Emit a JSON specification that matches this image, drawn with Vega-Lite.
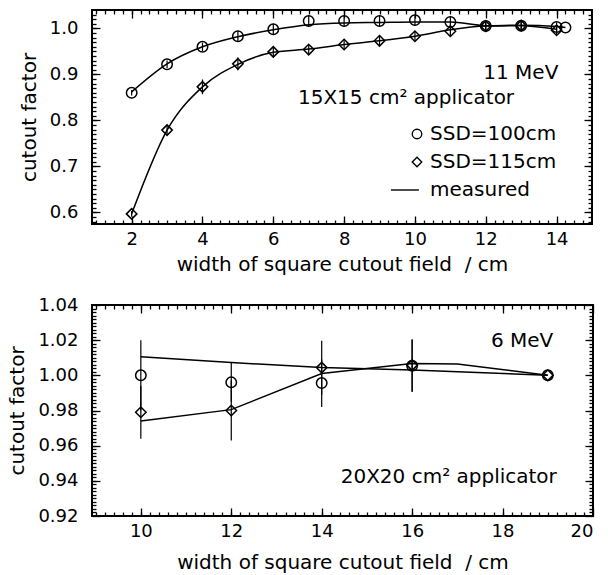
{
  "$schema": "https://vega.github.io/schema/vega-lite/v6.json",
  "background": "white",
  "padding": {"left": 6, "top": 8, "right": 0, "bottom": 0},
  "spacing": 20,
  "config": {
    "font": "DejaVu Sans",
    "view": {"stroke": "black", "strokeWidth": 2},
    "axis": {
      "labelFont": "DejaVu Sans", "labelFontSize": 18, "labelColor": "black",
      "titleFont": "DejaVu Sans", "titleFontSize": 20, "titleFontWeight": "normal", "titleColor": "black",
      "tickColor": "black", "tickWidth": 1.3, "domain": false, "grid": false, "labelPadding": 14, "titlePadding": 6
    },
    "axisY": {"labelPadding": 22, "titlePadding": 10},
    "legend": {"labelFont": "DejaVu Sans", "labelFontSize": 20, "labelColor": "black"}
  },
  "datasets": {
    "top_points": [
      {"w": 2, "cf": 0.860, "lo": 0.854, "hi": 0.866, "s": "SSD=100cm"},
      {"w": 3, "cf": 0.922, "lo": 0.914, "hi": 0.930, "s": "SSD=100cm"},
      {"w": 4, "cf": 0.960, "lo": 0.951, "hi": 0.969, "s": "SSD=100cm"},
      {"w": 5, "cf": 0.983, "lo": 0.972, "hi": 0.994, "s": "SSD=100cm"},
      {"w": 6, "cf": 0.998, "lo": 0.986, "hi": 1.010, "s": "SSD=100cm"},
      {"w": 7, "cf": 1.016, "lo": 1.004, "hi": 1.028, "s": "SSD=100cm"},
      {"w": 8, "cf": 1.016, "lo": 1.004, "hi": 1.028, "s": "SSD=100cm"},
      {"w": 9, "cf": 1.016, "lo": 1.004, "hi": 1.028, "s": "SSD=100cm"},
      {"w": 10, "cf": 1.018, "lo": 1.006, "hi": 1.030, "s": "SSD=100cm"},
      {"w": 11, "cf": 1.014, "lo": 1.002, "hi": 1.026, "s": "SSD=100cm"},
      {"w": 12, "cf": 1.005, "lo": 0.995, "hi": 1.015, "s": "SSD=100cm"},
      {"w": 13, "cf": 1.006, "lo": 0.996, "hi": 1.016, "s": "SSD=100cm"},
      {"w": 14, "cf": 1.003, "lo": 0.993, "hi": 1.013, "s": "SSD=100cm"},
      {"w": 14.25, "cf": 1.002, "lo": 1.002, "hi": 1.002, "s": "SSD=100cm"},
      {"w": 2, "cf": 0.597, "lo": 0.591, "hi": 0.603, "s": "SSD=115cm"},
      {"w": 3, "cf": 0.779, "lo": 0.769, "hi": 0.789, "s": "SSD=115cm"},
      {"w": 4, "cf": 0.873, "lo": 0.857, "hi": 0.889, "s": "SSD=115cm"},
      {"w": 5, "cf": 0.923, "lo": 0.909, "hi": 0.937, "s": "SSD=115cm"},
      {"w": 6, "cf": 0.949, "lo": 0.937, "hi": 0.961, "s": "SSD=115cm"},
      {"w": 7, "cf": 0.954, "lo": 0.944, "hi": 0.964, "s": "SSD=115cm"},
      {"w": 8, "cf": 0.965, "lo": 0.955, "hi": 0.975, "s": "SSD=115cm"},
      {"w": 9, "cf": 0.973, "lo": 0.963, "hi": 0.983, "s": "SSD=115cm"},
      {"w": 10, "cf": 0.983, "lo": 0.973, "hi": 0.993, "s": "SSD=115cm"},
      {"w": 11, "cf": 0.994, "lo": 0.982, "hi": 1.006, "s": "SSD=115cm"},
      {"w": 12, "cf": 1.005, "lo": 0.995, "hi": 1.015, "s": "SSD=115cm"},
      {"w": 13, "cf": 1.006, "lo": 0.996, "hi": 1.016, "s": "SSD=115cm"},
      {"w": 14, "cf": 0.996, "lo": 0.986, "hi": 1.006, "s": "SSD=115cm"}
    ],
    "top_measured": [
      {"w": 2, "cf": 0.862, "s": "SSD=100cm"},
      {"w": 3, "cf": 0.923, "s": "SSD=100cm"},
      {"w": 4, "cf": 0.960, "s": "SSD=100cm"},
      {"w": 5, "cf": 0.982, "s": "SSD=100cm"},
      {"w": 6, "cf": 0.997, "s": "SSD=100cm"},
      {"w": 7, "cf": 1.008, "s": "SSD=100cm"},
      {"w": 8, "cf": 1.012, "s": "SSD=100cm"},
      {"w": 9, "cf": 1.013, "s": "SSD=100cm"},
      {"w": 10, "cf": 1.014, "s": "SSD=100cm"},
      {"w": 11, "cf": 1.014, "s": "SSD=100cm"},
      {"w": 12, "cf": 1.006, "s": "SSD=100cm"},
      {"w": 13, "cf": 1.007, "s": "SSD=100cm"},
      {"w": 14, "cf": 1.004, "s": "SSD=100cm"},
      {"w": 14.25, "cf": 1.002, "s": "SSD=100cm"},
      {"w": 2, "cf": 0.597, "s": "SSD=115cm"},
      {"w": 3, "cf": 0.779, "s": "SSD=115cm"},
      {"w": 4, "cf": 0.873, "s": "SSD=115cm"},
      {"w": 5, "cf": 0.922, "s": "SSD=115cm"},
      {"w": 6, "cf": 0.948, "s": "SSD=115cm"},
      {"w": 7, "cf": 0.955, "s": "SSD=115cm"},
      {"w": 8, "cf": 0.965, "s": "SSD=115cm"},
      {"w": 9, "cf": 0.973, "s": "SSD=115cm"},
      {"w": 10, "cf": 0.983, "s": "SSD=115cm"},
      {"w": 11, "cf": 0.997, "s": "SSD=115cm"},
      {"w": 12, "cf": 1.005, "s": "SSD=115cm"},
      {"w": 13, "cf": 1.006, "s": "SSD=115cm"},
      {"w": 14, "cf": 0.998, "s": "SSD=115cm"}
    ],
    "bottom_points": [
      {"w": 10, "cf": 1.000, "lo": 0.980, "hi": 1.020, "s": "SSD=100cm"},
      {"w": 12, "cf": 0.996, "lo": 0.985, "hi": 1.007, "s": "SSD=100cm"},
      {"w": 14, "cf": 0.9956, "lo": 0.982, "hi": 1.009, "s": "SSD=100cm"},
      {"w": 16, "cf": 1.0054, "lo": 0.9905, "hi": 1.0204, "s": "SSD=100cm"},
      {"w": 19, "cf": 1.000, "lo": 1.000, "hi": 1.000, "s": "SSD=100cm"},
      {"w": 10, "cf": 0.979, "lo": 0.964, "hi": 0.994, "s": "SSD=115cm"},
      {"w": 12, "cf": 0.980, "lo": 0.963, "hi": 0.997, "s": "SSD=115cm"},
      {"w": 14, "cf": 1.0044, "lo": 0.989, "hi": 1.0197, "s": "SSD=115cm"},
      {"w": 16, "cf": 1.0058, "lo": 0.9908, "hi": 1.0204, "s": "SSD=115cm"},
      {"w": 19, "cf": 1.000, "lo": 1.000, "hi": 1.000, "s": "SSD=115cm"}
    ],
    "bottom_measured": [
      {"w": 10, "cf": 1.0105, "s": "A"},
      {"w": 12, "cf": 1.0073, "s": "A"},
      {"w": 14, "cf": 1.0044, "s": "A"},
      {"w": 16, "cf": 1.003, "s": "A"},
      {"w": 19, "cf": 1.000, "s": "A"},
      {"w": 10, "cf": 0.974, "s": "B"},
      {"w": 12, "cf": 0.9805, "s": "B"},
      {"w": 14, "cf": 1.001, "s": "B"},
      {"w": 16, "cf": 1.0067, "s": "B"},
      {"w": 17, "cf": 1.0065, "s": "B"},
      {"w": 19, "cf": 1.000, "s": "B"}
    ]
  },
  "vconcat": [
    {
      "width": 500,
      "height": 214,
      "resolve": {"axis": {"x": "independent", "y": "independent"}},
      "layer": [
        {
          "data": {"name": "top_points"},
          "mark": {"type": "rule", "color": "black", "strokeWidth": 1.2},
          "encoding": {
            "x": {"field": "w", "type": "quantitative", "scale": {"domain": [0.88, 15.0], "nice": false, "zero": false},
                  "axis": {"orient": "bottom", "values": [2, 4, 6, 8, 10, 12, 14], "tickSize": -8, "title": "width of square cutout field\u00a0 / cm"}},
            "y": {"field": "lo", "type": "quantitative", "scale": {"domain": [0.575, 1.04], "nice": false, "zero": false},
                  "axis": {"orient": "left", "values": [0.6, 0.7, 0.8, 0.9, 1.0], "format": ".1f", "tickSize": -8, "title": "cutout factor"}},
            "y2": {"field": "hi"}
          }
        },
        {
          "data": {"name": "top_measured"},
          "mark": {"type": "line", "color": "black", "strokeWidth": 1.5, "interpolate": "monotone"},
          "encoding": {
            "x": {"field": "w", "type": "quantitative", "axis": {"orient": "top", "values": [2, 4, 6, 8, 10, 12, 14], "tickSize": -8, "labels": false, "title": null}},
            "y": {"field": "cf", "type": "quantitative", "axis": {"orient": "right", "values": [0.6, 0.7, 0.8, 0.9, 1.0], "tickSize": -8, "labels": false, "title": null}},
            "detail": {"field": "s"}
          }
        },
        {
          "data": {"name": "top_points"},
          "mark": {"type": "point", "filled": false, "color": "black", "strokeWidth": 1.5, "size": 110, "opacity": 1},
          "encoding": {
            "x": {"field": "w", "type": "quantitative", "axis": {"orient": "bottom", "labels": false, "title": null, "tickSize": -4,
              "values": [1,1.25,1.5,1.75,2,2.25,2.5,2.75,3,3.25,3.5,3.75,4,4.25,4.5,4.75,5,5.25,5.5,5.75,6,6.25,6.5,6.75,7,7.25,7.5,7.75,8,8.25,8.5,8.75,9,9.25,9.5,9.75,10,10.25,10.5,10.75,11,11.25,11.5,11.75,12,12.25,12.5,12.75,13,13.25,13.5,13.75,14,14.25,14.5,14.75]}},
            "y": {"field": "cf", "type": "quantitative", "axis": {"orient": "left", "labels": false, "title": null, "tickSize": -4,
              "values": [0.58,0.59,0.6,0.61,0.62,0.63,0.64,0.65,0.66,0.67,0.68,0.69,0.7,0.71,0.72,0.73,0.74,0.75,0.76,0.77,0.78,0.79,0.8,0.81,0.82,0.83,0.84,0.85,0.86,0.87,0.88,0.89,0.9,0.91,0.92,0.93,0.94,0.95,0.96,0.97,0.98,0.99,1.0,1.01,1.02,1.03]}},
            "shape": {"field": "s", "type": "nominal",
              "scale": {"domain": ["SSD=100cm", "SSD=115cm", "measured"], "range": ["circle", "diamond", "M-5.5,0H0.4"]},
              "legend": {"title": null, "orient": "none", "legendX": 315, "legendY": 114, "symbolSize": 90, "symbolStrokeColor": "black", "symbolFillColor": "transparent", "symbolStrokeWidth": 1.4, "rowPadding": 8, "labelOffset": 3}}
          }
        },
        {
          "data": {"values": [{"t": "11 MeV"}]},
          "mark": {"type": "text", "align": "right", "baseline": "alphabetic", "fontSize": 20, "color": "black"},
          "encoding": {
            "x": {"datum": 14.05, "type": "quantitative", "axis": {"orient": "top", "labels": false, "title": null, "tickSize": -4,
              "values": [1,1.25,1.5,1.75,2,2.25,2.5,2.75,3,3.25,3.5,3.75,4,4.25,4.5,4.75,5,5.25,5.5,5.75,6,6.25,6.5,6.75,7,7.25,7.5,7.75,8,8.25,8.5,8.75,9,9.25,9.5,9.75,10,10.25,10.5,10.75,11,11.25,11.5,11.75,12,12.25,12.5,12.75,13,13.25,13.5,13.75,14,14.25,14.5,14.75]}},
            "y": {"datum": 0.889, "type": "quantitative", "axis": {"orient": "right", "labels": false, "title": null, "tickSize": -4,
              "values": [0.58,0.59,0.6,0.61,0.62,0.63,0.64,0.65,0.66,0.67,0.68,0.69,0.7,0.71,0.72,0.73,0.74,0.75,0.76,0.77,0.78,0.79,0.8,0.81,0.82,0.83,0.84,0.85,0.86,0.87,0.88,0.89,0.9,0.91,0.92,0.93,0.94,0.95,0.96,0.97,0.98,0.99,1.0,1.01,1.02,1.03]}},
            "text": {"field": "t"}
          }
        },
        {
          "data": {"values": [{"t": "15X15 cm² applicator"}]},
          "mark": {"type": "text", "align": "right", "baseline": "alphabetic", "fontSize": 20, "color": "black"},
          "encoding": {
            "x": {"datum": 12.8, "type": "quantitative", "axis": null},
            "y": {"datum": 0.835, "type": "quantitative", "axis": null},
            "text": {"field": "t"}
          }
        }
      ]
    },
    {
      "width": 501,
      "height": 211,
      "resolve": {"axis": {"x": "independent", "y": "independent"}},
      "layer": [
        {
          "data": {"name": "bottom_points"},
          "mark": {"type": "rule", "color": "black", "strokeWidth": 1.2},
          "encoding": {
            "x": {"field": "w", "type": "quantitative", "scale": {"domain": [8.92, 20], "nice": false, "zero": false},
                  "axis": {"orient": "bottom", "values": [10, 12, 14, 16, 18, 20], "tickSize": -8, "titlePadding": 12, "title": "width of square cutout field\u00a0 / cm"}},
            "y": {"field": "lo", "type": "quantitative", "scale": {"domain": [0.92, 1.04], "nice": false, "zero": false},
                  "axis": {"orient": "left", "values": [0.92, 0.94, 0.96, 0.98, 1.0, 1.02, 1.04], "format": ".2f", "tickSize": -8, "title": "cutout factor"}},
            "y2": {"field": "hi"}
          }
        },
        {
          "data": {"name": "bottom_measured"},
          "mark": {"type": "line", "color": "black", "strokeWidth": 1.5},
          "encoding": {
            "x": {"field": "w", "type": "quantitative", "axis": {"orient": "top", "values": [10, 12, 14, 16, 18, 20], "tickSize": -8, "labels": false, "title": null}},
            "y": {"field": "cf", "type": "quantitative", "axis": {"orient": "right", "values": [0.92, 0.94, 0.96, 0.98, 1.0, 1.02, 1.04], "tickSize": -8, "labels": false, "title": null}},
            "detail": {"field": "s"}
          }
        },
        {
          "data": {"name": "bottom_points"},
          "mark": {"type": "point", "filled": false, "color": "black", "strokeWidth": 1.5, "size": 110, "opacity": 1},
          "encoding": {
            "x": {"field": "w", "type": "quantitative", "axis": {"orient": "bottom", "labels": false, "title": null, "tickSize": -4,
              "values": [9,9.2,9.4,9.6,9.8,10,10.2,10.4,10.6,10.8,11,11.2,11.4,11.6,11.8,12,12.2,12.4,12.6,12.8,13,13.2,13.4,13.6,13.8,14,14.2,14.4,14.6,14.8,15,15.2,15.4,15.6,15.8,16,16.2,16.4,16.6,16.8,17,17.2,17.4,17.6,17.8,18,18.2,18.4,18.6,18.8,19,19.2,19.4,19.6,19.8]}},
            "y": {"field": "cf", "type": "quantitative", "axis": {"orient": "left", "labels": false, "title": null, "tickSize": -4,
              "values": [0.922,0.924,0.926,0.928,0.93,0.932,0.934,0.936,0.938,0.94,0.942,0.944,0.946,0.948,0.95,0.952,0.954,0.956,0.958,0.96,0.962,0.964,0.966,0.968,0.97,0.972,0.974,0.976,0.978,0.98,0.982,0.984,0.986,0.988,0.99,0.992,0.994,0.996,0.998,1.0,1.002,1.004,1.006,1.008,1.01,1.012,1.014,1.016,1.018,1.02,1.022,1.024,1.026,1.028,1.03,1.032,1.034,1.036,1.038]}},
            "shape": {"field": "s", "type": "nominal", "scale": {"domain": ["SSD=100cm", "SSD=115cm"], "range": ["circle", "diamond"]}, "legend": null}
          }
        },
        {
          "data": {"values": [{"t": "6 MeV"}]},
          "mark": {"type": "text", "align": "right", "baseline": "alphabetic", "fontSize": 20, "color": "black"},
          "encoding": {
            "x": {"datum": 19.12, "type": "quantitative", "axis": {"orient": "top", "labels": false, "title": null, "tickSize": -4,
              "values": [9,9.2,9.4,9.6,9.8,10,10.2,10.4,10.6,10.8,11,11.2,11.4,11.6,11.8,12,12.2,12.4,12.6,12.8,13,13.2,13.4,13.6,13.8,14,14.2,14.4,14.6,14.8,15,15.2,15.4,15.6,15.8,16,16.2,16.4,16.6,16.8,17,17.2,17.4,17.6,17.8,18,18.2,18.4,18.6,18.8,19,19.2,19.4,19.6,19.8]}},
            "y": {"datum": 1.0162, "type": "quantitative", "axis": {"orient": "right", "labels": false, "title": null, "tickSize": -4,
              "values": [0.922,0.924,0.926,0.928,0.93,0.932,0.934,0.936,0.938,0.94,0.942,0.944,0.946,0.948,0.95,0.952,0.954,0.956,0.958,0.96,0.962,0.964,0.966,0.968,0.97,0.972,0.974,0.976,0.978,0.98,0.982,0.984,0.986,0.988,0.99,0.992,0.994,0.996,0.998,1.0,1.002,1.004,1.006,1.008,1.01,1.012,1.014,1.016,1.018,1.02,1.022,1.024,1.026,1.028,1.03,1.032,1.034,1.036,1.038]}},
            "text": {"field": "t"}
          }
        },
        {
          "data": {"values": [{"t": "20X20 cm² applicator"}]},
          "mark": {"type": "text", "align": "right", "baseline": "alphabetic", "fontSize": 20, "color": "black"},
          "encoding": {
            "x": {"datum": 19.2, "type": "quantitative", "axis": null},
            "y": {"datum": 0.939, "type": "quantitative", "axis": null},
            "text": {"field": "t"}
          }
        }
      ]
    }
  ]
}
